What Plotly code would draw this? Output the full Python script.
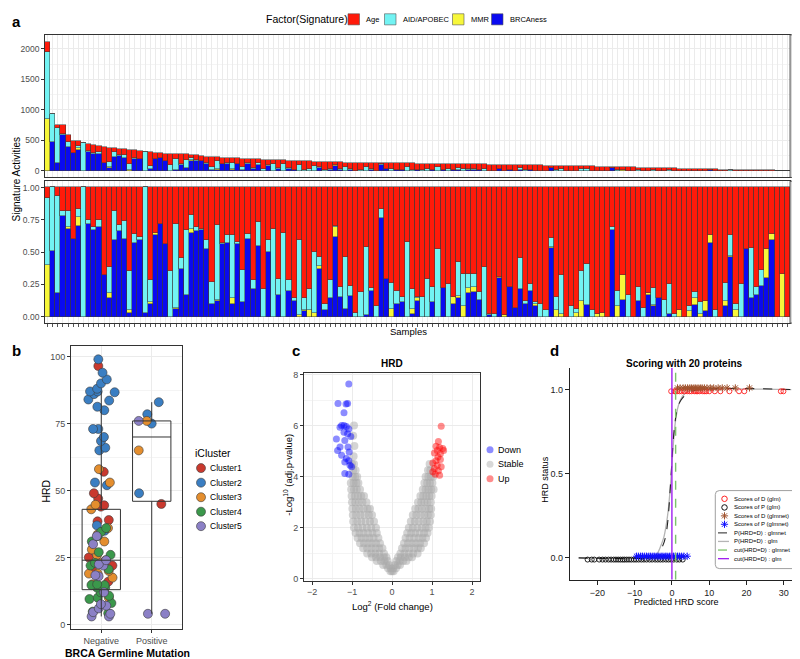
import plotly.graph_objects as go

W, H = 800, 659
FONT = "Liberation Sans, Arial, sans-serif"


def X(px):
    return px / W


def Y(py):
    return 1 - py / H


# ======================= Panel a data =======================
sample_ids = list(range(1, 146))
total_counts = [
    2118, 935, 763, 753, 586, 500, 489, 468, 441, 425,
    414, 398, 387, 382, 371, 360, 355, 344, 328, 317,
    312, 306, 296, 290, 285, 280, 280, 274, 269, 258,
    247, 237, 231, 231, 215, 215, 210, 210, 199, 199,
    194, 194, 188, 183, 183, 177, 177, 172, 172, 167,
    161, 161, 156, 156, 150, 150, 145, 145, 140, 140,
    140, 140, 134, 134, 134, 134, 134, 129, 129, 129,
    128, 127, 126, 125, 124, 122, 121, 120, 119, 118,
    117, 116, 115, 113, 112, 111, 110, 108, 107, 106,
    104, 103, 101, 100, 98, 97, 95, 93, 92, 90,
    88, 87, 85, 83, 81, 80, 78, 76, 74, 72,
    70, 68, 66, 64, 62, 60, 58, 56, 54, 52,
    50, 48, 46, 44, 42, 40, 38, 36, 34, 32,
    30, 28, 27, 25, 24, 22, 21, 19, 18, 16,
    15, 13, 11, 9, 7,
]
frac_brcaness = [
    0, .51, .18, .78, .68, .60, .70, 0, .72, .67,
    .69, .32, .14, .59, .66, .60, .03, .57, .59, .03,
    .10, .63, .72, .56, 0, .06, .37, .17, .65, .66,
    .67, .52, .10, .12, .56, .57, .10, .56, .11, .60,
    .21, .55, 0, .50, 0, .17, 0, .20, .12, 0,
    .04, 0, 0, .37, .05, .14, .62, .15, .06, .16,
    0, 0, .01, .20, 0, .76, .29, 0, .10, .11,
    0, .02, .12, 0, 0, .11, 0, .22, 0, .10,
    .14, 0, .18, .19, .13, 0, .01, 0, .30, 0,
    .23, .07, .21, .10, .20, .08, 0, 0, .53, 0,
    0, 0, 0, 0, 0, .09, 0, 0, 0, 0,
    .67, 0, .13, 0, 0, .12, 0, .17, .08, .14,
    0, .02, 0, 0, 0, 0, .09, 0, .04, .57,
    0, 0, .08, .46, 0, 0, .52, .14, .17, .24,
    .30, .59, 0, 0, 0,
]
frac_mmr = [
    .40, 0, 0, 0, .01, 0, .07, 0, 0, 0,
    0, 0, .04, 0, 0, 0, .02, 0, 0, 0,
    .01, .02, 0, 0, 0, .01, 0, 0, .03, 0,
    0, 0, 0, .01, 0, 0, .04, 0, 0, 0,
    0, 0, 0, 0, 0, 0, 0, 0, 0, .01,
    .01, .05, .03, .02, 0, 0, .07, 0, 0, 0,
    0, 0, 0, 0, 0, 0, 0, .06, 0, 0,
    0, .04, .02, 0, 0, 0, 0, 0, 0, .05,
    .02, .08, .04, .04, 0, 0, 0, 0, .01, .01,
    0, 0, 0, 0, 0, .02, 0, 0, .01, .05,
    .02, 0, 0, .03, .12, 0, 0, .02, .03, 0,
    0, .08, .19, 0, 0, 0, 0, .01, .01, 0,
    0, 0, 0, .05, 0, .04, .05, .02, .08, .06,
    0, 0, .04, .01, .05, 0, 0, 0, 0, 0,
    .22, .05, 0, .33, 0,
]
frac_apobec = [
    .52, .49, .75, .04, .13, 0, .06, 1.0, .03, .02,
    .06, 0, .20, .23, .05, .14, .30, .07, .03, .97,
    .17, 0, 0, 0, .35, .65, .08, .50, .11, .03,
    .01, .07, .17, .58, .01, .06, .49, .02, .25, .04,
    .07, .18, .21, .09, .68, .12, .65, .08, .02, .58,
    .09, .16, .47, .07, .05, .14, .01, .08, .40, .08,
    .03, .19, .53, .02, .08, .07, 0, .20, .10, .04,
    .58, .15, .01, .15, .29, .12, .52, 0, .25, 0,
    .26, .25, .11, .10, .06, .38, .01, .02, 0, 0,
    0, 0, .24, .02, .05, .01, .10, .05, .07, .10,
    .30, 0, .08, .03, .23, .32, .05, 0, 0, 0,
    .02, .12, 0, .17, 0, .11, .07, 0, .13, 0,
    .13, .23, .02, 0, 0, .04, .05, .09, 0, 0,
    .05, 0, .14, .16, .05, .25, 0, .39, .06, .12,
    0, 0, 0, 0, 0,
]
frac_age = [round(1 - b - m - a, 3) for b, m, a in zip(frac_brcaness, frac_mmr, frac_apobec)]

sig_names = ["BRCAness", "MMR", "AID/APOBEC", "Age"]
sig_fracs = [frac_brcaness, frac_mmr, frac_apobec, frac_age]
sig_colors = ["#0A0AF0", "#F7F73A", "#72F3F3", "#FF1A0A"]

# ======================= Panel b data =======================
groups = ["Negative", "Positive"]
cluster_names = ["Cluster1", "Cluster2", "Cluster3", "Cluster4", "Cluster5"]
cluster_colors = ["#C9392E", "#3A7EC2", "#E48E2E", "#3B984B", "#8B80C6"]
hrd_negative = {
    "Cluster1": [96.5, 57, 49, 47, 44.5, 44, 39, 38.5, 25, 22, 20, 16],
    "Cluster2": [99, 94, 91.5, 90, 88, 87, 87, 86.7, 86, 84, 83.6, 81.3, 80,
                 73, 73, 70, 68.5, 66, 65, 53, 52, 37, 35],
    "Cluster3": [58, 53, 44.7, 43, 36, 33.6, 31, 28, 26, 24, 23, 20, 19, 19, 17.5, 15, 10],
    "Cluster4": [36, 34.6, 33, 31, 27, 26, 23, 22, 20.6, 15, 14.7, 14.7, 13.8, 13.8,
                 12, 10.7, 10, 9.5, 8, 4.8, 4.2],
    "Cluster5": [33, 30, 24, 22.5, 22, 18.4, 18, 12, 7.6, 7, 6, 4.6, 4, 3, 3],
}
hrd_positive = {
    "Cluster1": [45],
    "Cluster2": [83, 78.5, 75, 49],
    "Cluster3": [76, 65],
    "Cluster4": [],
    "Cluster5": [76, 4, 4],
}
box_q1 = [13, 46]
box_median = [24, 70]
box_q3 = [43, 76]
box_lower = [3, 4]
box_upper = [87, 83]

# ======================= Panel c data =======================
down_x = [-1.08, -1.35, -1.15, -1.11, -1.20, -1.26, -1.20, -1.14, -1.30, -1.08, -1.20, -1.11, -1.03,
          -1.39, -1.18, -1.30, -1.10, -1.36, -1.07, -1.26, -1.14, -1.08, -1.18, -1.05, -1.01, -1.18, -1.08]
down_y = [7.63, 6.86, 6.84, 6.86, 6.50, 6.00, 6.00, 5.96, 5.94, 5.87, 5.74, 5.68, 5.57,
          5.48, 5.42, 5.16, 5.16, 5.03, 4.97, 4.84, 4.71, 4.62, 4.58, 4.45, 4.39, 4.13, 4.10]
up_x = [1.23, 1.16, 1.10, 1.19, 1.27, 1.13, 1.29, 1.06, 1.21, 1.15, 1.10, 1.21, 1.02, 1.13, 1.23,
        1.06, 1.16, 1.08, 1.19, 1.02]
up_y = [5.97, 5.38, 5.19, 5.14, 5.10, 5.03, 5.03, 4.93, 4.90, 4.77, 4.62, 4.67, 4.54, 4.45, 4.39,
        4.32, 4.23, 4.10, 4.06, 4.19]
stable_rows = [
    (0.30, [-0.04, 0.0, 0.04]),
    (0.42, [-0.10, -0.03, 0.03, 0.10]),
    (0.55, [-0.22, -0.14, -0.07, 0.07, 0.14, 0.20]),
    (0.70, [-0.38, -0.28, -0.19, -0.11, 0.11, 0.19, 0.28, 0.36]),
    (0.85, [-0.50, -0.40, -0.30, -0.20, -0.14, 0.15, 0.22, 0.32, 0.42, 0.50]),
    (1.00, [-0.62, -0.52, -0.42, -0.32, -0.20, 0.21, 0.31, 0.42, 0.53, 0.64]),
    (1.20, [-0.72, -0.62, -0.52, -0.42, -0.32, -0.24, 0.25, 0.34, 0.44, 0.55, 0.65, 0.72]),
    (1.40, [-0.80, -0.70, -0.60, -0.50, -0.40, -0.30, 0.30, 0.40, 0.50, 0.60, 0.70, 0.80]),
    (1.60, [-0.86, -0.76, -0.66, -0.56, -0.46, -0.34, 0.34, 0.44, 0.55, 0.66, 0.76, 0.85]),
    (1.80, [-0.91, -0.81, -0.71, -0.60, -0.49, -0.38, 0.38, 0.48, 0.58, 0.69, 0.80, 0.89]),
    (2.00, [-0.95, -0.85, -0.74, -0.63, -0.52, -0.40, 0.42, 0.52, 0.63, 0.74, 0.84, 0.92]),
    (2.25, [-0.97, -0.87, -0.77, -0.66, -0.55, -0.45, 0.47, 0.57, 0.67, 0.78, 0.87, 0.95]),
    (2.50, [-0.98, -0.89, -0.79, -0.69, -0.58, -0.50, 0.52, 0.61, 0.71, 0.81, 0.90, 0.97]),
    (2.75, [-0.99, -0.90, -0.81, -0.71, -0.61, -0.55, 0.58, 0.66, 0.75, 0.84, 0.93, 0.98]),
    (3.00, [-1.00, -0.92, -0.83, -0.74, -0.64, 0.65, 0.73, 0.81, 0.89, 0.97]),
    (3.25, [-1.01, -0.93, -0.85, -0.77, -0.70, 0.71, 0.78, 0.86, 0.93, 0.99]),
    (3.50, [-1.02, -0.95, -0.88, -0.80, 0.77, 0.84, 0.91, 0.98, 1.04]),
    (3.75, [-1.03, -0.96, -0.89, -0.84, 0.81, 0.88, 0.95, 1.01]),
    (4.00, [-0.98, -0.92, -0.87, 0.84, 0.91, 0.97, 1.03]),
    (4.25, [-0.97, -0.91, 0.90, 0.96]),
    (4.50, [-1.00, -0.95, 0.94]),
    (4.80, [-0.96]),
    (5.20, [-0.94]),
    (5.60, [-0.97]),
    (6.00, [-0.95]),
]
stable_x = [x for yv, xs in stable_rows for x in xs]
stable_y = [yv for yv, xs in stable_rows for x in xs]

# ======================= Panel d data =======================
d_glm_x = [-0.2, 0.7, 1.0, 1.4, 2.0, 2.6, 3.4, 4.1, 4.7, 5.2, 6.0, 6.5, 6.9, 7.4, 8.3, 8.8,
           9.2, 10.0, 11.5, 13.0, 15.4, 18.0, 19.4, 29.2, 29.9]
d_glm_y = [0.99] * len(d_glm_x)
p_glm_x = [-22.6, -21.5, -20.8, -19.5, -18.6, -17.8, -17.0, -16.3, -15.6, -15.0, -14.4, -13.8,
           -13.2, -12.7, -12.1, -11.5, -10.9, -10.2, -9.6, -8.9, -8.2, -7.5, -6.8, -6.0, -5.3,
           -4.5, -3.8, -3.1, -2.4, -1.6, -0.9, -0.2, 0.5, 1.3, 2.0, 2.9]
p_glm_y = [-0.01] * len(p_glm_x)
d_glmnet_x = [1.5, 2.2, 3.0, 3.6, 4.2, 4.8, 5.3, 5.9, 6.4, 7.0, 7.6, 8.1, 8.7, 9.4, 10.3, 11.2,
              12.4, 13.5, 14.8, 17.0, 20.8]
d_glmnet_y = [1.01] * len(d_glmnet_x)
p_glmnet_x = [-9.5, -9.0, -8.4, -7.9, -7.3, -6.8, -6.2, -5.7, -5.1, -4.6, -4.0, -3.5, -2.9, -2.4,
              -1.8, -1.3, -0.7, -0.2, 0.4, 0.9, 1.5, 2.0, 2.6, 3.2, 4.1]
p_glmnet_y = [0.01] * len(p_glmnet_x)
curve_glmnet_x = [-25, -6, -4, -3.3, -2.5, -2, -1.5, -1, -0.6, -0.2, 0.3, 0.7, 1.2, 1.8, 2.5, 3.8, 6, 32]
curve_glmnet_p = [0, 0, 0.01, 0.03, 0.07, 0.10, 0.15, 0.24, 0.36, 0.50, 0.68, 0.78, 0.86, 0.91, 0.94, 0.97, 0.995, 1.0]
curve_glm_x = [-25, -6, -4.5, -3.8, -3, -2.2, -1.5, -1, -0.5, -0.1, 0.4, 1, 1.8, 2.8, 4, 6, 32]
curve_glm_p = [0, 0, 0.01, 0.03, 0.07, 0.12, 0.20, 0.28, 0.40, 0.52, 0.68, 0.82, 0.91, 0.96, 0.985, 0.998, 1.0]
cut_glm = 0.0
cut_glmnet = 1.0

# ======================= Figure =======================
fig = go.Figure()
GRID = "#EBEBEB"
MINOR = "#F4F4F4"
BORDER = "#333333"
TICKC = "#4D4D4D"

for name, fr, col in zip(sig_names, sig_fracs, sig_colors):
    counts = [t * f for t, f in zip(total_counts, fr)]
    fig.add_trace(go.Bar(x=sample_ids, y=counts, name=name, marker=dict(color=col, line=dict(color="#3A3A3A", width=0.5)),
                         width=1, xaxis="x", yaxis="y", showlegend=False, hoverinfo="skip"))
for name, fr, col in zip(sig_names, sig_fracs, sig_colors):
    fig.add_trace(go.Bar(x=sample_ids, y=fr, name=name, marker=dict(color=col, line=dict(color="#3A3A3A", width=0.5)),
                         width=1, xaxis="x2", yaxis="y2", showlegend=False, hoverinfo="skip"))

for cname, ccol in zip(cluster_names, cluster_colors):
    ys = hrd_negative[cname] + hrd_positive[cname]
    xs = ["Negative"] * len(hrd_negative[cname]) + ["Positive"] * len(hrd_positive[cname])
    fig.add_trace(go.Box(x=xs, y=ys, boxpoints="all", jitter=1, pointpos=0, width=0.6,
                         fillcolor="rgba(0,0,0,0)", line=dict(width=0, color="rgba(0,0,0,0)"),
                         marker=dict(size=9, color=ccol, line=dict(color="#3A3A3A", width=0.6)),
                         xaxis="x3", yaxis="y3", showlegend=False, hoverinfo="skip"))
fig.add_trace(go.Box(x=groups, q1=box_q1, median=box_median, q3=box_q3, lowerfence=box_lower,
                     upperfence=box_upper, boxpoints=False, fillcolor="rgba(0,0,0,0)",
                     line=dict(color="#333333", width=1), whiskerwidth=0, width=0.76,
                     xaxis="x3", yaxis="y3", showlegend=False, hoverinfo="skip"))

fig.add_trace(go.Scatter(x=stable_x, y=stable_y, mode="markers", xaxis="x4", yaxis="y4",
                         marker=dict(size=8, color="#A9A9A9", opacity=0.5, line=dict(width=0)),
                         showlegend=False, hoverinfo="skip"))
fig.add_trace(go.Scatter(x=down_x, y=down_y, mode="markers", xaxis="x4", yaxis="y4",
                         marker=dict(size=7, color="#0000FF", opacity=0.45, line=dict(width=0)),
                         showlegend=False, hoverinfo="skip"))
fig.add_trace(go.Scatter(x=up_x, y=up_y, mode="markers", xaxis="x4", yaxis="y4",
                         marker=dict(size=7, color="#FF0000", opacity=0.45, line=dict(width=0)),
                         showlegend=False, hoverinfo="skip"))

fig.add_trace(go.Scatter(x=curve_glm_x, y=curve_glm_p, mode="lines", line=dict(color="#B5B5B5", width=1.3, shape="spline"),
                         xaxis="x5", yaxis="y5", showlegend=False, hoverinfo="skip"))
fig.add_trace(go.Scatter(x=curve_glmnet_x, y=curve_glmnet_p, mode="lines",
                         line=dict(color="#222222", width=1.1, dash="dash", shape="spline"),
                         xaxis="x5", yaxis="y5", showlegend=False, hoverinfo="skip"))
fig.add_trace(go.Scatter(x=p_glm_x, y=p_glm_y, mode="markers", xaxis="x5", yaxis="y5",
                         marker=dict(symbol="circle-open", size=5, color="#111111", line=dict(width=0.9)),
                         showlegend=False, hoverinfo="skip"))
fig.add_trace(go.Scatter(x=d_glm_x, y=d_glm_y, mode="markers", xaxis="x5", yaxis="y5",
                         marker=dict(symbol="circle-open", size=5, color="#FF2020", line=dict(width=0.9)),
                         showlegend=False, hoverinfo="skip"))
fig.add_trace(go.Scatter(x=d_glmnet_x, y=d_glmnet_y, mode="markers", xaxis="x5", yaxis="y5",
                         marker=dict(symbol="asterisk-open", size=6, color="#A0522D", line=dict(width=1, color="#A0522D")),
                         showlegend=False, hoverinfo="skip"))
fig.add_trace(go.Scatter(x=p_glmnet_x, y=p_glmnet_y, mode="markers", xaxis="x5", yaxis="y5",
                         marker=dict(symbol="asterisk-open", size=6, color="#1010FF", line=dict(width=1, color="#1010FF")),
                         showlegend=False, hoverinfo="skip"))
fig.add_trace(go.Scatter(x=[cut_glmnet, cut_glmnet], y=[-0.13, 1.13], mode="lines", xaxis="x5", yaxis="y5",
                         line=dict(color="#7CC46A", width=1.4, dash="dash"), showlegend=False, hoverinfo="skip"))
fig.add_trace(go.Scatter(x=[cut_glm, cut_glm], y=[-0.13, 1.13], mode="lines", xaxis="x5", yaxis="y5",
                         line=dict(color="#A020F0", width=1.4), showlegend=False, hoverinfo="skip"))

# ---------------- manual legend glyphs on a pixel overlay axis ----------------
leg_b_y = [461.3, 476.0, 490.7, 505.3, 519.9]
fig.add_trace(go.Scatter(x=[193] * 5, y=leg_b_y, mode="markers", xaxis="x6", yaxis="y6",
                         marker=dict(size=9, color=cluster_colors, line=dict(color="#3A3A3A", width=0.6)),
                         showlegend=False, hoverinfo="skip"))
leg_c_y = [442.7, 457.3, 472.0]
fig.add_trace(go.Scatter(x=[482] * 3, y=leg_c_y, mode="markers", xaxis="x6", yaxis="y6",
                         marker=dict(size=7, color=["#0000FF", "#A9A9A9", "#FF0000"], opacity=0.45),
                         showlegend=False, hoverinfo="skip"))
leg_d_y = [492.3, 501.0, 509.5, 518.0, 526.7, 535.3, 544.0, 552.7]
fig.add_trace(go.Scatter(x=[716.5, 716.5], y=leg_d_y[0:2], mode="markers", xaxis="x6", yaxis="y6",
                         marker=dict(symbol="circle-open", size=5.5, color=["#FF2020", "#111111"], line=dict(width=1)),
                         showlegend=False, hoverinfo="skip"))
fig.add_trace(go.Scatter(x=[716.5, 716.5], y=leg_d_y[2:4], mode="markers", xaxis="x6", yaxis="y6",
                         marker=dict(symbol="asterisk-open", size=6, color=["#A0522D", "#1010FF"],
                                     line=dict(width=1, color=["#A0522D", "#1010FF"])),
                         showlegend=False, hoverinfo="skip"))
for yy, col, dash, wd in zip(leg_d_y[4:], ["#222222", "#B5B5B5", "#7CC46A", "#A020F0"],
                             ["dash", "solid", "dash", "solid"], [1.0, 1.3, 1.3, 1.3]):
    fig.add_trace(go.Scatter(x=[710, 721], y=[yy, yy], mode="lines", xaxis="x6", yaxis="y6",
                             line=dict(color=col, width=wd, dash=dash), showlegend=False, hoverinfo="skip"))

shapes = []
annotations = []


def ann(text, x, y, size, bold=False, angle=0, xanchor="center", yanchor="middle", color="#000000"):
    annotations.append(dict(text=f"<b>{text}</b>" if bold else text, x=X(x), y=Y(y), xref="paper", yref="paper",
                            showarrow=False, textangle=angle, xanchor=xanchor, yanchor=yanchor,
                            font=dict(size=size, color=color, family=FONT)))


ann("a", 2, 11, 15, bold=True, xanchor="left")
ann("Factor(Signature)", 299, 8.5, 10.5)
leg_a = [("Age", 340, "#FF1A0A"), ("AID/APOBEC", 376.5, "#72F3F3"), ("MMR", 444.5, "#F7F73A"), ("BRCAness", 483.5, "#0A0AF0")]
for lab, x0, col in leg_a:
    shapes.append(dict(type="rect", xref="paper", yref="paper", x0=X(x0), x1=X(x0 + 11.5), y0=Y(14), y1=Y(2.8),
                       fillcolor=col, line=dict(color="#555555", width=0.6)))
    ann(lab, x0 + 16, 8.5, 7.5, xanchor="left")

for (y0, y1, lab) in [(24, 168, "Counts"), (171.7, 315, "Fractions")]:
    shapes.append(dict(type="rect", xref="paper", yref="paper", x0=X(782), x1=X(799.5), y0=Y(y1), y1=Y(y0),
                       fillcolor="#D9D9D9", line=dict(color="#333333", width=0.8)))
    ann(lab, 790.5, (y0 + y1) / 2, 9.5, angle=90, color="#1A1A1A")

ann("Signature Activities", 8, 170, 10, angle=-90)
ann("Samples", 400, 323, 9.5)

ann("b", 2, 343, 15, bold=True, xanchor="left")
ann("HRD", 38, 485, 10.5, angle=-90)
ann("BRCA Germline Mutation", 119, 648, 10.5, bold=True)
ann("iCluster", 185, 446, 10.5, xanchor="left")
for lab, yy in zip(cluster_names, leg_b_y):
    ann(lab, 200, yy, 8.5, xanchor="left")

ann("c", 282, 343, 15, bold=True, xanchor="left")
ann("HRD", 384, 356, 10, bold=True)
ann("-Log<sup>10</sup> (adj.p-value)", 280, 468, 9.5, angle=-90)
ann("Log<sup>2</sup> (Fold change)", 384, 600, 9.5)
for lab, yy in zip(["Down", "Stable", "Up"], leg_c_y):
    ann(lab, 488, yy, 9, xanchor="left")

ann("d", 540, 343, 15, bold=True, xanchor="left")
ann("Scoring with 20 proteins", 676, 356, 10, bold=True)
ann("HRD status", 537, 473, 9, angle=-90)
ann("Predicted HRD score", 668, 596, 9)
shapes.append(dict(type="path", xref="x6", yref="y6",
                   path="M 711.3,484 L 786.7,484 Q 790.7,484 790.7,488 L 790.7,558.7 Q 790.7,562.7 786.7,562.7 "
                        "L 711.3,562.7 Q 707.3,562.7 707.3,558.7 L 707.3,488 Q 707.3,484 711.3,484 Z",
                   fillcolor="white", line=dict(color="#888888", width=0.8), layer="below"))
for lab, yy in zip(["Scores of D (glm)", "Scores of P (glm)", "Scores of D (glmnet)", "Scores of P (glmnet)",
                    "P(HRD=D) : glmnet", "P(HRD=D) : glm", "cut(HRD=D) : glmnet", "cut(HRD=D) : glm"], leg_d_y):
    ann(lab, 723.5, yy, 6, xanchor="left")

fig.update_layout(
    width=W, height=H, margin=dict(l=0, r=0, t=0, b=0), paper_bgcolor="white", plot_bgcolor="rgba(0,0,0,0)",
    barmode="stack", bargap=0, boxmode="overlay", showlegend=False,
    font=dict(family=FONT, size=9, color="#000000"),
    shapes=shapes, annotations=annotations,
)

common_tick = dict(tickfont=dict(size=8.5, color=TICKC, family=FONT), ticks="outside", ticklen=3, tickcolor=BORDER,
                   tickwidth=0.6, showline=True, mirror=True, linecolor=BORDER, linewidth=0.8, zeroline=False)
tick9 = {**common_tick, "tickfont": dict(size=9, color=TICKC, family=FONT)}

fig.update_layout(
    xaxis=dict(domain=[X(37), X(782)], range=[0.5, 145.5], anchor="y", showticklabels=False, ticks="",
               tickvals=sample_ids, showgrid=True, gridcolor=GRID, gridwidth=0.5, showline=True, mirror=True,
               linecolor=BORDER, linewidth=0.8, zeroline=False),
    yaxis=dict(domain=[Y(168), Y(24)], range=[-106, 2230], anchor="x", tickvals=[0, 500, 1000, 1500, 2000],
               showgrid=True, gridcolor=GRID, minor=dict(dtick=250, tick0=0, showgrid=True, gridcolor=MINOR, ticks=""),
               **common_tick),
    xaxis2=dict(domain=[X(37), X(782)], range=[0.5, 145.5], anchor="y2", matches="x", tickvals=sample_ids,
                ticktext=[""] * len(sample_ids), ticks="outside", ticklen=2.5, tickcolor="#555555", tickwidth=0.5,
                showgrid=True, gridcolor=GRID, gridwidth=0.5, showline=True, mirror=True, linecolor=BORDER,
                linewidth=0.8, zeroline=False),
    yaxis2=dict(domain=[Y(315), Y(171.7)], range=[-0.05, 1.05], anchor="x2", tickvals=[0, 0.25, 0.5, 0.75, 1.0],
                ticktext=["0.00", "0.25", "0.50", "0.75", "1.00"], showgrid=True, gridcolor=GRID,
                minor=dict(dtick=0.125, tick0=0, showgrid=True, gridcolor=MINOR, ticks=""), **common_tick),
    xaxis3=dict(domain=[X(63), X(174)], type="category", categoryorder="array", categoryarray=groups,
                range=[-0.6, 1.6], anchor="y3", showgrid=True, gridcolor=GRID, **tick9),
    yaxis3=dict(domain=[Y(624), Y(338)], range=[-1.8, 104], anchor="x3", tickvals=[0, 25, 50, 75, 100],
                showgrid=True, gridcolor=GRID, minor=dict(dtick=12.5, tick0=0, showgrid=True, gridcolor=MINOR, ticks=""),
                **tick9),
    xaxis4=dict(domain=[X(296), X(472)], range=[-2.2, 2.2], anchor="y4", tickvals=[-2, -1, 0, 1, 2],
                showgrid=True, gridcolor=GRID, minor=dict(dtick=0.5, tick0=0, showgrid=True, gridcolor=MINOR, ticks=""),
                **tick9),
    yaxis4=dict(domain=[Y(575), Y(365)], range=[-0.07, 8.07], anchor="x4", tickvals=[0, 2, 4, 6, 8],
                showgrid=True, gridcolor=GRID, minor=dict(dtick=1, tick0=0, showgrid=True, gridcolor=MINOR, ticks=""),
                **tick9),
    xaxis5=dict(domain=[X(561.7), X(790)], range=[-27.4, 33.8], anchor="y5", tickvals=[-20, -10, 0, 10, 20, 30],
                showgrid=False, zeroline=False, showline=True, mirror=False, linecolor="#222222", linewidth=1,
                ticks="outside", ticklen=4, tickcolor="#222222", tickfont=dict(size=9, color="#222222", family=FONT)),
    yaxis5=dict(domain=[Y(574), Y(360)], range=[-0.13, 1.13], anchor="x5", tickvals=[0, 0.5, 1.0],
                ticktext=["0.0", "0.5", "1.0"], showgrid=False, zeroline=False, showline=True, mirror=False,
                linecolor="#222222", linewidth=1, ticks="outside", ticklen=4, tickcolor="#222222",
                tickfont=dict(size=9, color="#222222", family=FONT)),
    xaxis6=dict(domain=[0, 1], range=[0, W], anchor="y6", visible=False, fixedrange=True),
    yaxis6=dict(domain=[0, 1], range=[H, 0], anchor="x6", visible=False, fixedrange=True),
)

fig.write_html("out.html")
